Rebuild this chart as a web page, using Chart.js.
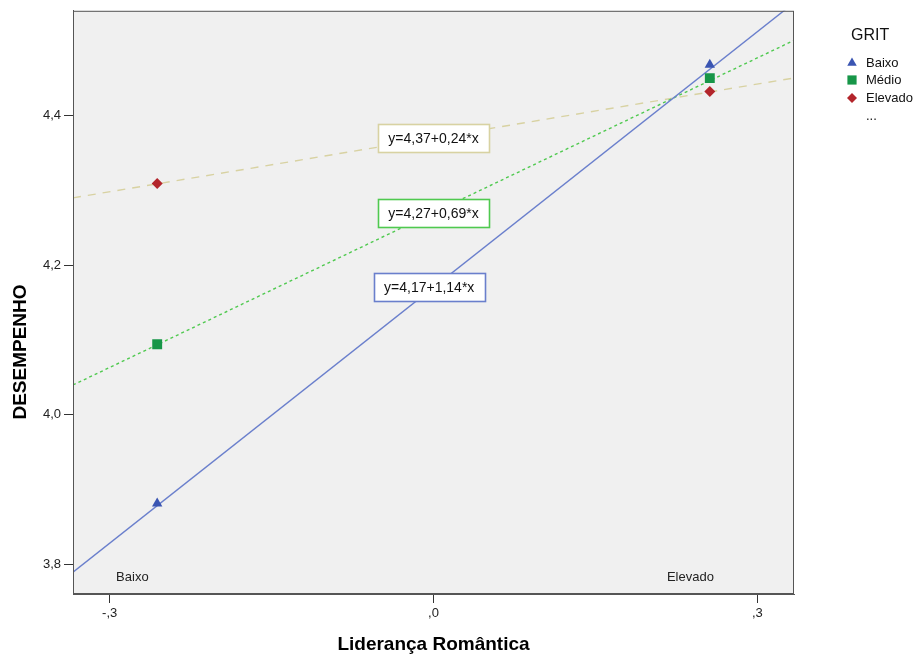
<!DOCTYPE html>
<html>
<head>
<meta charset="utf-8">
<script src="https://cdn.jsdelivr.net/npm/chart.js@4"></script>
<style>
  html, body { margin: 0; padding: 0; background: #fff; }
  #wrap { width: 919px; height: 657px; }
</style>
</head>
<body>
<div id="wrap"><canvas id="grit"></canvas></div>
<script>
// groups (GRIT)
const groups = ['Baixo', 'Médio', 'Elevado'];
// x positions of the two levels of Liderança Romântica
const levelX = [-0.256, 0.256];
// group means [Baixo, Elevado]
const meansBaixo = [3.881, 4.468];
const meansMedio = [4.094, 4.450];
const meansElevado = [4.309, 4.432];
// fit lines y = a + b*x
const intercepts = [4.17, 4.27, 4.37];
const slopes = [1.14, 0.69, 0.24];
const eqLabelX = [-0.004, 0, 0];
// level labels inside plot
const levelNames = ['Baixo', 'Elevado'];
const levelNameX = [-0.279, 0.238];
// axes
const xTicks = [-0.3, 0, 0.3];
const xTickLabels = ['-,3', ',0', ',3'];
const yTicks = [3.8, 4.0, 4.2, 4.4];
const yTickLabels = ['3,8', '4,0', '4,2', '4,4'];
const xMin = -0.334, xMax = 0.334;
const yMin = 3.76, yMax = 4.54;

const lineColors = ['#6a7fcc', '#4fc94f', '#d8d2a2'];
const lineDash = [[], [3, 3], [8, 7]];
const markColors = ['#3a55b2', '#179648', '#b3252b'];
const markStyles = ['triangle', 'rect', 'rectRot'];
const markRadius = [6, 7, 5.5];
const allMeans = [meansBaixo, meansMedio, meansElevado];

const fmt = v => v.toFixed(2).replace('.', ',');

const datasets = [];
groups.forEach((g, i) => {
  datasets.push({
    type: 'line',
    label: g + ' fit',
    data: [xMin, xMax].map(x => ({ x: x, y: intercepts[i] + slopes[i] * x })),
    borderColor: lineColors[i],
    borderWidth: 1.4,
    borderDash: lineDash[i],
    pointRadius: 0,
    fill: false,
    order: 2
  });
});
groups.forEach((g, i) => {
  datasets.push({
    type: 'scatter',
    label: g,
    data: levelX.map((x, k) => ({ x: x, y: allMeans[i][k] })),
    pointStyle: markStyles[i],
    pointRadius: markRadius[i],
    pointBackgroundColor: markColors[i],
    pointBorderColor: markColors[i],
    pointBorderWidth: 0,
    order: 1
  });
});

const plotDecor = {
  id: 'plotDecor',
  beforeDraw(chart) {
    const { ctx, chartArea: a } = chart;
    ctx.save();
    ctx.fillStyle = '#f0f0f0';
    ctx.fillRect(a.left, a.top, a.right - a.left, a.bottom - a.top);
    ctx.restore();
  },
  afterDatasetsDraw(chart) {
    const { ctx, chartArea: a, scales } = chart;
    const xs = scales.x, ys = scales.y;
    ctx.save();
    // level names
    ctx.font = '13px "Liberation Sans", Arial, sans-serif';
    ctx.fillStyle = '#222';
    ctx.textAlign = 'center';
    ctx.textBaseline = 'middle';
    levelNames.forEach((n, k) => {
      ctx.fillText(n, xs.getPixelForValue(levelNameX[k]), a.bottom - 17);
    });
    // equation boxes
    ctx.font = '14px "Liberation Sans", Arial, sans-serif';
    groups.forEach((g, i) => {
      const txt = 'y=' + fmt(intercepts[i]) + '+' + fmt(slopes[i]) + '*x';
      const cx = xs.getPixelForValue(eqLabelX[i]);
      const cy = ys.getPixelForValue(intercepts[i]);
      const w = 111, h = 28;
      ctx.fillStyle = '#fff';
      ctx.fillRect(Math.round(cx - w / 2) + 0.5, Math.round(cy - h / 2) + 0.5, w, h);
      ctx.strokeStyle = lineColors[i];
      ctx.lineWidth = 1.6;
      ctx.strokeRect(Math.round(cx - w / 2) + 0.5, Math.round(cy - h / 2) + 0.5, w, h);
      ctx.fillStyle = '#111';
      ctx.fillText(txt, cx, cy + 1);
    });
    // plot frame
    ctx.strokeStyle = '#555';
    ctx.lineWidth = 1;
    ctx.strokeRect(a.left + 0.5, a.top + 0.5, a.right - a.left - 1, a.bottom - a.top - 1);
    ctx.restore();
  },
  afterDraw(chart) {
    const { ctx } = chart;
    ctx.save();
    // y title
    ctx.font = 'bold 19px "Liberation Sans", Arial, sans-serif';
    ctx.fillStyle = '#000';
    ctx.translate(21, 352);
    ctx.rotate(-Math.PI / 2);
    ctx.textAlign = 'center';
    ctx.textBaseline = 'middle';
    ctx.fillText('DESEMPENHO', 0, 0);
    ctx.restore();

    // legend
    ctx.save();
    ctx.textBaseline = 'middle';
    ctx.textAlign = 'left';
    ctx.fillStyle = '#111';
    ctx.font = '16px "Liberation Sans", Arial, sans-serif';
    ctx.fillText('GRIT', 851, 36);
    ctx.font = '13px "Liberation Sans", Arial, sans-serif';
    const ly = [63, 80, 98];
    groups.forEach((g, i) => {
      ctx.fillStyle = markColors[i];
      ctx.strokeStyle = markColors[i];
      Chart.helpers.drawPoint(ctx, {
        pointStyle: markStyles[i],
        radius: markRadius[i] - 0.5,
        borderWidth: 0
      }, 852, ly[i]);
      ctx.fillStyle = '#111';
      ctx.fillText(g, 866, ly[i]);
    });
    ctx.fillText('...', 866, 116);
    ctx.restore();
  }
};

const chart = new Chart(document.getElementById('grit').getContext('2d'), {
  type: 'scatter',
  data: { datasets: datasets },
  options: {
    responsive: true,
    maintainAspectRatio: false,
    animation: false,
    layout: { padding: { top: 7, right: 125, left: 0, bottom: 0 } },
    plugins: {
      legend: { display: false },
      tooltip: { enabled: false }
    },
    scales: {
      x: {
        type: 'linear',
        min: xMin,
        max: xMax,
        afterBuildTicks: axis => { axis.ticks = xTicks.map(v => ({ value: v })); },
        afterFit: axis => { axis.height = 63; },
        grid: { display: true, drawOnChartArea: false, tickLength: 9, color: '#333' },
        border: { display: true, color: '#555' },
        ticks: {
          padding: 3,
          color: '#222',
          font: { family: '"Liberation Sans", Arial, sans-serif', size: 13 },
          maxRotation: 0,
          callback: (v) => xTickLabels[xTicks.findIndex(t => Math.abs(t - v) < 1e-6)]
        },
        title: {
          display: true,
          text: 'Liderança Romântica',
          color: '#000',
          font: { family: '"Liberation Sans", Arial, sans-serif', size: 19, weight: 'bold' },
          padding: { top: 0, bottom: 1 }
        }
      },
      y: {
        type: 'linear',
        min: yMin,
        max: yMax,
        afterBuildTicks: axis => { axis.ticks = yTicks.map(v => ({ value: v })); },
        afterFit: axis => { axis.width = 73; },
        grid: { display: true, drawOnChartArea: false, tickLength: 9, color: '#333' },
        border: { display: true, color: '#555' },
        ticks: {
          padding: 3,
          color: '#222',
          font: { family: '"Liberation Sans", Arial, sans-serif', size: 13 },
          callback: (v) => yTickLabels[yTicks.findIndex(t => Math.abs(t - v) < 1e-6)]
        }
      }
    }
  },
  plugins: [plotDecor]
});
</script>
</body>
</html>
